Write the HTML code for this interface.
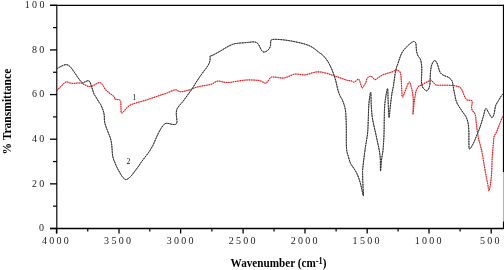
<!DOCTYPE html>
<html><head><meta charset="utf-8"><style>
html,body{margin:0;padding:0;background:#fff;}
body{width:504px;height:270px;overflow:hidden;}
svg{display:block;will-change:transform;}
.tk{font-family:"Liberation Serif",serif;font-size:10px;letter-spacing:2.3px;fill:#222;}
.ttl{font-family:"Liberation Serif",serif;font-size:13.6px;font-weight:bold;fill:#000;}
.cl{font-family:"Liberation Serif",serif;font-size:8px;fill:#111;}
</style></head><body>
<svg width="504" height="270" viewBox="0 0 504 270">
<rect x="0" y="0" width="504" height="270" fill="#fff"/>
<defs><path d="M57.00 90.60 C57.38 90.17 58.35 89.00 59.30 88.00 C60.25 87.00 61.50 85.63 62.70 84.60 C63.90 83.57 65.40 82.10 66.50 81.80 C67.60 81.50 68.17 82.52 69.30 82.80 C70.43 83.08 71.97 83.45 73.30 83.50 C74.63 83.55 75.97 83.17 77.30 83.10 C78.63 83.03 80.07 82.83 81.30 83.10 C82.53 83.37 83.58 84.17 84.70 84.70 C85.82 85.23 86.90 86.03 88.00 86.30 C89.10 86.57 90.18 86.57 91.30 86.30 C92.42 86.03 93.58 85.27 94.70 84.70 C95.82 84.13 97.05 83.23 98.00 82.90 C98.95 82.57 99.82 82.60 100.40 82.70 C100.98 82.80 101.02 82.95 101.50 83.50 C101.98 84.05 102.67 85.03 103.30 86.00 C103.93 86.97 104.52 88.30 105.30 89.30 C106.08 90.30 107.10 91.22 108.00 92.00 C108.90 92.78 109.82 93.33 110.70 94.00 C111.58 94.67 112.63 95.45 113.30 96.00 C113.97 96.55 114.53 96.85 114.70 97.30 C114.87 97.75 114.08 98.37 114.30 98.70 C114.52 99.03 115.17 99.13 116.00 99.30 C116.83 99.47 118.53 99.37 119.30 99.70 C120.07 100.03 120.33 100.13 120.60 101.30 C120.87 102.47 120.78 104.80 120.90 106.70 C121.02 108.60 120.90 111.82 121.30 112.70 C121.70 113.58 122.52 112.67 123.30 112.00 C124.08 111.33 124.88 109.83 126.00 108.70 C127.12 107.57 128.37 106.15 130.00 105.20 C131.63 104.25 133.20 103.83 135.80 103.00 C138.40 102.17 142.58 101.13 145.60 100.20 C148.62 99.27 151.50 98.22 153.90 97.40 C156.30 96.58 157.87 96.02 160.00 95.30 C162.13 94.58 164.20 94.02 166.70 93.10 C169.20 92.18 173.03 90.13 175.00 89.80 C176.97 89.47 177.33 90.78 178.50 91.10 C179.67 91.42 180.73 91.77 182.00 91.70 C183.27 91.63 184.60 91.08 186.10 90.70 C187.60 90.32 189.18 90.02 191.00 89.40 C192.82 88.78 194.67 87.65 197.00 87.00 C199.33 86.35 202.50 86.00 205.00 85.50 C207.50 85.00 210.33 84.55 212.00 84.00 C213.67 83.45 214.17 82.67 215.00 82.20 C215.83 81.73 216.17 81.37 217.00 81.20 C217.83 81.03 219.00 81.07 220.00 81.20 C221.00 81.33 221.83 81.78 223.00 82.00 C224.17 82.22 225.67 82.45 227.00 82.50 C228.33 82.55 229.70 82.45 231.00 82.30 C232.30 82.15 232.98 81.90 234.80 81.60 C236.62 81.30 239.72 80.78 241.90 80.50 C244.08 80.22 245.92 79.97 247.90 79.90 C249.88 79.83 251.92 80.00 253.80 80.10 C255.68 80.20 257.82 80.25 259.20 80.50 C260.58 80.75 261.02 81.15 262.10 81.60 C263.18 82.05 264.70 83.30 265.70 83.20 C266.70 83.10 267.30 81.95 268.10 81.00 C268.90 80.05 269.70 78.18 270.50 77.50 C271.30 76.82 271.72 76.90 272.90 76.90 C274.08 76.90 276.02 77.30 277.60 77.50 C279.18 77.70 281.00 78.10 282.40 78.10 C283.80 78.10 284.77 77.87 286.00 77.50 C287.23 77.13 288.38 76.47 289.80 75.90 C291.22 75.33 292.92 74.35 294.50 74.10 C296.08 73.85 297.52 74.27 299.30 74.40 C301.08 74.53 303.22 75.10 305.20 74.90 C307.18 74.70 309.40 73.68 311.20 73.20 C313.00 72.72 314.42 72.20 316.00 72.00 C317.58 71.80 318.92 71.80 320.70 72.00 C322.48 72.20 324.72 72.65 326.70 73.20 C328.68 73.75 330.62 74.62 332.60 75.30 C334.58 75.98 336.62 76.62 338.60 77.30 C340.58 77.98 342.93 78.87 344.50 79.40 C346.07 79.93 346.90 80.27 348.00 80.50 C349.10 80.73 350.10 80.52 351.10 80.80 C352.10 81.08 353.10 82.25 354.00 82.20 C354.90 82.15 355.78 81.00 356.50 80.50 C357.22 80.00 357.80 79.20 358.30 79.20 C358.80 79.20 359.05 79.53 359.50 80.50 C359.95 81.47 360.55 83.75 361.00 85.00 C361.45 86.25 361.63 88.00 362.20 88.00 C362.77 88.00 363.77 86.00 364.40 85.00 C365.03 84.00 365.55 83.08 366.00 82.00 C366.45 80.92 366.52 79.42 367.10 78.50 C367.68 77.58 368.70 76.80 369.50 76.50 C370.30 76.20 371.00 76.18 371.90 76.70 C372.80 77.22 373.90 79.40 374.90 79.60 C375.90 79.80 376.62 78.68 377.90 77.90 C379.18 77.12 381.02 75.67 382.60 74.90 C384.18 74.13 385.82 73.80 387.40 73.30 C388.98 72.80 390.72 72.43 392.10 71.90 C393.48 71.37 394.70 70.33 395.70 70.10 C396.70 69.87 397.30 70.00 398.10 70.50 C398.90 71.00 399.97 71.28 400.50 73.10 C401.03 74.92 401.05 77.92 401.30 81.40 C401.55 84.88 401.77 91.38 402.00 94.00 C402.23 96.62 402.30 97.25 402.70 97.10 C403.10 96.95 403.73 94.80 404.40 93.10 C405.07 91.40 405.88 88.75 406.70 86.90 C407.52 85.05 408.63 82.30 409.30 82.00 C409.97 81.70 410.22 83.60 410.70 85.10 C411.18 86.60 411.77 88.52 412.20 91.00 C412.63 93.48 413.17 96.10 413.30 100.00 C413.43 103.90 412.88 113.90 413.00 114.40 C413.12 114.90 413.70 105.73 414.00 103.00 C414.30 100.27 414.50 99.83 414.80 98.00 C415.10 96.17 415.40 93.58 415.80 92.00 C416.20 90.42 416.67 89.50 417.20 88.50 C417.73 87.50 418.28 86.58 419.00 86.00 C419.72 85.42 420.50 85.50 421.50 85.00 C422.50 84.50 423.75 83.67 425.00 83.00 C426.25 82.33 428.00 81.47 429.00 81.00 C430.00 80.53 430.33 80.03 431.00 80.20 C431.67 80.37 432.17 81.20 433.00 82.00 C433.83 82.80 434.83 84.47 436.00 85.00 C437.17 85.53 438.50 85.17 440.00 85.20 C441.50 85.23 443.00 85.15 445.00 85.20 C447.00 85.25 449.83 85.30 452.00 85.50 C454.17 85.70 456.53 85.97 458.00 86.40 C459.47 86.83 460.07 87.35 460.80 88.10 C461.53 88.85 461.85 89.70 462.40 90.90 C462.95 92.10 463.53 94.00 464.10 95.30 C464.67 96.60 465.15 97.87 465.80 98.70 C466.45 99.53 467.17 100.03 468.00 100.30 C468.83 100.57 470.10 100.12 470.80 100.30 C471.50 100.48 472.02 100.65 472.20 101.40 C472.38 102.15 472.00 103.77 471.90 104.80 C471.80 105.83 471.50 106.58 471.60 107.60 C471.70 108.62 471.90 109.78 472.50 110.90 C473.10 112.02 474.57 112.20 475.20 114.30 C475.83 116.40 475.82 119.80 476.30 123.50 C476.78 127.20 477.48 133.10 478.10 136.50 C478.72 139.90 479.32 141.10 480.00 143.90 C480.68 146.70 481.27 148.40 482.20 153.30 C483.13 158.20 484.67 168.12 485.60 173.30 C486.53 178.48 487.25 181.50 487.80 184.40 C488.35 187.30 488.47 190.70 488.90 190.70 C489.33 190.70 489.95 187.30 490.40 184.40 C490.85 181.50 491.30 177.73 491.60 173.30 C491.90 168.87 491.92 162.62 492.20 157.80 C492.48 152.98 492.98 147.92 493.30 144.40 C493.62 140.88 493.58 138.73 494.10 136.70 C494.62 134.67 495.53 134.18 496.40 132.20 C497.27 130.22 498.32 127.27 499.30 124.80 C500.28 122.33 501.68 118.75 502.30 117.40 C502.92 116.05 502.88 116.82 503.00 116.70" id="rc"/></defs><g fill="none" stroke-linejoin="round"><use href="#rc" stroke="#f28a8a" stroke-width="1"/><use href="#rc" stroke="#e61414" stroke-width="1.05" stroke-dasharray="1.3 1"/></g>
<defs><path d="M57.00 68.60 C57.50 68.32 58.95 67.45 60.00 66.90 C61.05 66.35 62.20 65.68 63.30 65.30 C64.40 64.92 65.60 64.50 66.60 64.60 C67.60 64.70 68.40 65.18 69.30 65.90 C70.20 66.62 71.10 67.75 72.00 68.90 C72.90 70.05 73.82 71.52 74.70 72.80 C75.58 74.08 76.42 75.33 77.30 76.60 C78.18 77.87 79.13 79.37 80.00 80.40 C80.87 81.43 81.72 82.53 82.50 82.80 C83.28 83.07 83.78 82.35 84.70 82.00 C85.62 81.65 87.12 80.70 88.00 80.70 C88.88 80.70 89.45 81.12 90.00 82.00 C90.55 82.88 90.85 84.67 91.30 86.00 C91.75 87.33 92.25 88.67 92.70 90.00 C93.15 91.33 93.52 92.92 94.00 94.00 C94.48 95.08 94.77 95.13 95.60 96.50 C96.43 97.87 98.15 100.87 99.00 102.20 C99.85 103.53 100.12 103.40 100.70 104.50 C101.28 105.60 102.02 107.55 102.50 108.80 C102.98 110.05 103.30 110.80 103.60 112.00 C103.90 113.20 104.12 114.25 104.30 116.00 C104.48 117.75 104.17 120.03 104.70 122.50 C105.23 124.97 106.57 128.25 107.50 130.80 C108.43 133.35 109.63 135.72 110.30 137.80 C110.97 139.88 111.22 141.60 111.50 143.30 C111.78 145.00 111.78 145.77 112.00 148.00 C112.22 150.23 112.25 154.10 112.80 156.70 C113.35 159.30 114.52 161.63 115.30 163.60 C116.08 165.57 116.72 166.93 117.50 168.50 C118.28 170.07 119.17 171.58 120.00 173.00 C120.83 174.42 121.67 175.97 122.50 177.00 C123.33 178.03 124.33 178.78 125.00 179.20 C125.67 179.62 125.83 179.70 126.50 179.50 C127.17 179.30 128.08 178.75 129.00 178.00 C129.92 177.25 131.00 176.17 132.00 175.00 C133.00 173.83 134.00 172.33 135.00 171.00 C136.00 169.67 137.00 168.42 138.00 167.00 C139.00 165.58 139.93 164.00 141.00 162.50 C142.07 161.00 143.13 159.67 144.40 158.00 C145.67 156.33 147.20 154.57 148.60 152.50 C150.00 150.43 151.65 147.77 152.80 145.60 C153.95 143.43 154.63 141.43 155.50 139.50 C156.37 137.57 157.08 135.83 158.00 134.00 C158.92 132.17 160.00 130.08 161.00 128.50 C162.00 126.92 163.08 125.37 164.00 124.50 C164.92 123.63 165.50 123.42 166.50 123.30 C167.50 123.18 168.92 123.60 170.00 123.80 C171.08 124.00 172.00 124.43 173.00 124.50 C174.00 124.57 175.33 124.70 176.00 124.20 C176.67 123.70 176.92 122.70 177.00 121.50 C177.08 120.30 176.62 118.42 176.50 117.00 C176.38 115.58 176.23 114.28 176.30 113.00 C176.37 111.72 176.42 110.50 176.90 109.30 C177.38 108.10 178.13 107.18 179.20 105.80 C180.27 104.42 181.92 102.77 183.30 101.00 C184.68 99.23 186.05 97.20 187.50 95.20 C188.95 93.20 190.58 91.12 192.00 89.00 C193.42 86.88 194.67 84.58 196.00 82.50 C197.33 80.42 198.67 78.42 200.00 76.50 C201.33 74.58 202.92 72.45 204.00 71.00 C205.08 69.55 205.58 69.22 206.50 67.80 C207.42 66.38 208.88 64.12 209.50 62.50 C210.12 60.88 210.08 59.22 210.20 58.10 C210.32 56.98 209.77 56.28 210.20 55.80 C210.63 55.32 210.98 56.07 212.80 55.20 C214.62 54.33 218.78 51.93 221.10 50.60 C223.42 49.27 224.73 48.26 226.70 47.20 C228.67 46.14 231.05 44.90 232.90 44.25 C234.75 43.60 235.60 43.57 237.80 43.30 C240.00 43.02 244.07 42.78 246.10 42.60 C248.13 42.42 248.63 42.32 250.00 42.20 C251.37 42.08 253.03 41.72 254.30 41.90 C255.57 42.08 256.70 42.50 257.60 43.30 C258.50 44.10 259.00 45.48 259.70 46.70 C260.40 47.92 261.10 49.70 261.80 50.60 C262.50 51.50 263.08 52.02 263.90 52.10 C264.72 52.18 265.82 51.67 266.70 51.10 C267.58 50.53 268.57 49.67 269.20 48.70 C269.83 47.73 270.23 46.58 270.50 45.30 C270.77 44.02 270.52 41.97 270.80 41.00 C271.08 40.03 271.03 39.77 272.20 39.50 C273.37 39.23 275.72 39.32 277.80 39.40 C279.88 39.48 282.38 39.72 284.70 40.00 C287.02 40.28 289.38 40.68 291.70 41.10 C294.02 41.52 296.28 41.97 298.60 42.50 C300.92 43.03 303.52 43.62 305.60 44.30 C307.68 44.98 309.48 45.75 311.10 46.60 C312.72 47.45 313.92 48.38 315.30 49.40 C316.68 50.42 318.07 51.67 319.40 52.70 C320.73 53.73 321.95 54.22 323.30 55.60 C324.65 56.98 326.22 59.02 327.50 61.00 C328.78 62.98 329.95 65.25 331.00 67.50 C332.05 69.75 333.00 72.25 333.80 74.50 C334.60 76.75 335.23 78.92 335.80 81.00 C336.37 83.08 336.75 85.17 337.20 87.00 C337.65 88.83 337.95 90.37 338.50 92.00 C339.05 93.63 339.85 95.47 340.50 96.80 C341.15 98.13 341.72 98.38 342.40 100.00 C343.08 101.62 344.05 104.35 344.60 106.50 C345.15 108.65 345.42 109.48 345.70 112.90 C345.98 116.32 346.17 121.15 346.30 127.00 C346.43 132.85 346.13 143.00 346.50 148.00 C346.87 153.00 347.82 154.42 348.50 157.00 C349.18 159.58 349.75 161.67 350.60 163.50 C351.45 165.33 352.52 166.27 353.60 168.00 C354.68 169.73 356.02 171.53 357.10 173.90 C358.18 176.27 359.32 179.63 360.10 182.20 C360.88 184.77 361.25 187.03 361.80 189.30 C362.35 191.57 363.20 196.38 363.40 195.80 C363.60 195.22 363.13 189.25 363.00 185.80 C362.87 182.35 362.63 178.07 362.60 175.10 C362.57 172.13 362.37 172.40 362.80 168.00 C363.23 163.60 364.42 154.37 365.20 148.70 C365.98 143.03 367.00 138.52 367.50 134.00 C368.00 129.48 367.97 126.63 368.20 121.60 C368.43 116.57 368.48 108.70 368.90 103.80 C369.32 98.90 370.32 92.17 370.70 92.20 C371.08 92.23 370.97 100.00 371.20 104.00 C371.43 108.00 371.63 112.53 372.10 116.20 C372.57 119.87 373.38 123.03 374.00 126.00 C374.62 128.97 375.22 131.33 375.80 134.00 C376.38 136.67 376.93 139.33 377.50 142.00 C378.07 144.67 378.73 147.17 379.20 150.00 C379.67 152.83 380.08 155.50 380.30 159.00 C380.52 162.50 380.30 170.83 380.50 171.00 C380.70 171.17 381.08 163.50 381.50 160.00 C381.92 156.50 382.58 154.33 383.00 150.00 C383.42 145.67 383.75 140.83 384.00 134.00 C384.25 127.17 384.20 115.22 384.50 109.00 C384.80 102.78 385.28 100.08 385.80 96.70 C386.32 93.32 387.22 88.12 387.60 88.70 C387.98 89.28 387.87 95.40 388.10 100.20 C388.33 105.00 388.65 116.32 389.00 117.50 C389.35 118.68 389.70 111.37 390.20 107.30 C390.70 103.23 391.47 96.65 392.00 93.10 C392.53 89.55 392.78 89.73 393.40 86.00 C394.02 82.27 394.85 74.70 395.70 70.70 C396.55 66.70 397.70 64.45 398.50 62.00 C399.30 59.55 399.75 57.83 400.50 56.00 C401.25 54.17 401.92 52.58 403.00 51.00 C404.08 49.42 405.67 47.83 407.00 46.50 C408.33 45.17 409.83 43.83 411.00 43.00 C412.17 42.17 413.20 41.50 414.00 41.50 C414.80 41.50 415.43 42.08 415.80 43.00 C416.17 43.92 416.07 45.58 416.20 47.00 C416.33 48.42 416.30 50.03 416.60 51.50 C416.90 52.97 417.38 54.55 418.00 55.80 C418.62 57.05 419.70 57.47 420.30 59.00 C420.90 60.53 421.35 63.00 421.60 65.00 C421.85 67.00 421.82 68.83 421.80 71.00 C421.78 73.17 421.55 76.00 421.50 78.00 C421.45 80.00 421.33 81.50 421.50 83.00 C421.67 84.50 421.92 85.83 422.50 87.00 C423.08 88.17 424.25 89.37 425.00 90.00 C425.75 90.63 426.33 91.13 427.00 90.80 C427.67 90.47 428.50 89.30 429.00 88.00 C429.50 86.70 429.78 85.17 430.00 83.00 C430.22 80.83 430.13 77.50 430.30 75.00 C430.47 72.50 430.63 70.00 431.00 68.00 C431.37 66.00 431.92 64.22 432.50 63.00 C433.08 61.78 433.83 60.87 434.50 60.70 C435.17 60.53 435.92 61.12 436.50 62.00 C437.08 62.88 437.50 64.50 438.00 66.00 C438.50 67.50 438.92 69.67 439.50 71.00 C440.08 72.33 440.58 73.17 441.50 74.00 C442.42 74.83 443.92 75.50 445.00 76.00 C446.08 76.50 447.00 76.42 448.00 77.00 C449.00 77.58 450.27 78.67 451.00 79.50 C451.73 80.33 451.97 80.47 452.40 82.00 C452.83 83.53 453.18 86.48 453.60 88.70 C454.02 90.92 454.45 93.18 454.90 95.30 C455.35 97.42 455.68 99.63 456.30 101.40 C456.92 103.17 457.85 104.60 458.60 105.90 C459.35 107.20 460.13 108.18 460.80 109.20 C461.47 110.22 461.72 110.70 462.60 112.00 C463.48 113.30 465.17 115.08 466.10 117.00 C467.03 118.92 467.73 120.87 468.20 123.50 C468.67 126.13 468.78 129.72 468.90 132.80 C469.02 135.88 468.82 139.30 468.90 142.00 C468.98 144.70 468.78 148.53 469.40 149.00 C470.02 149.47 471.45 146.88 472.60 144.80 C473.75 142.72 475.07 139.43 476.30 136.50 C477.53 133.57 478.88 130.35 480.00 127.20 C481.12 124.05 482.05 120.68 483.00 117.60 C483.95 114.52 484.72 109.43 485.70 108.70 C486.68 107.97 487.87 111.72 488.90 113.20 C489.93 114.68 491.03 117.48 491.90 117.60 C492.77 117.72 493.48 115.87 494.10 113.90 C494.72 111.93 494.87 108.02 495.60 105.80 C496.33 103.58 497.65 102.08 498.50 100.60 C499.35 99.12 500.08 97.88 500.70 96.90 C501.32 95.92 501.82 95.18 502.20 94.70 C502.58 94.22 502.87 94.12 503.00 94.00" id="bc"/></defs><g fill="none" stroke-linejoin="round"><use href="#bc" stroke="#7a7a7a" stroke-width="0.95"/><use href="#bc" stroke="#2a2a2a" stroke-width="1" stroke-dasharray="1.6 1"/></g>
<line x1="50" y1="5.4" x2="504" y2="5.4" stroke="#000" stroke-width="1.2"/>
<line x1="50" y1="228.5" x2="504" y2="228.5" stroke="#000" stroke-width="1.3"/>
<line x1="503.5" y1="4.8" x2="503.5" y2="172" stroke="#000" stroke-width="1.2"/>
<line x1="503.5" y1="172" x2="503.5" y2="221.6" stroke="#b4b4b4" stroke-width="1.2"/>
<line x1="503.5" y1="221.6" x2="503.5" y2="229" stroke="#000" stroke-width="1.2"/>
<line x1="56.75" y1="4.8" x2="56.75" y2="233.5" stroke="#333" stroke-width="1.45"/>
<line x1="50" y1="228.50" x2="57" y2="228.50" stroke="#000" stroke-width="1.3"/>
<line x1="53" y1="206.18" x2="57" y2="206.18" stroke="#000" stroke-width="1.2"/>
<line x1="50" y1="183.86" x2="57" y2="183.86" stroke="#000" stroke-width="1.3"/>
<line x1="53" y1="161.54" x2="57" y2="161.54" stroke="#000" stroke-width="1.2"/>
<line x1="50" y1="139.22" x2="57" y2="139.22" stroke="#000" stroke-width="1.3"/>
<line x1="53" y1="116.90" x2="57" y2="116.90" stroke="#000" stroke-width="1.2"/>
<line x1="50" y1="94.58" x2="57" y2="94.58" stroke="#000" stroke-width="1.3"/>
<line x1="53" y1="72.26" x2="57" y2="72.26" stroke="#000" stroke-width="1.2"/>
<line x1="50" y1="49.94" x2="57" y2="49.94" stroke="#000" stroke-width="1.3"/>
<line x1="53" y1="27.62" x2="57" y2="27.62" stroke="#000" stroke-width="1.2"/>
<line x1="50" y1="5.30" x2="57" y2="5.30" stroke="#000" stroke-width="1.3"/>
<line x1="56.50" y1="228" x2="56.50" y2="233.5" stroke="#000" stroke-width="1.3"/>
<line x1="119.00" y1="228" x2="119.00" y2="233.5" stroke="#000" stroke-width="1.3"/>
<line x1="180.60" y1="228" x2="180.60" y2="233.5" stroke="#000" stroke-width="1.3"/>
<line x1="243.10" y1="228" x2="243.10" y2="233.5" stroke="#000" stroke-width="1.3"/>
<line x1="305.00" y1="228" x2="305.00" y2="233.5" stroke="#000" stroke-width="1.3"/>
<line x1="367.20" y1="228" x2="367.20" y2="233.5" stroke="#000" stroke-width="1.3"/>
<line x1="429.00" y1="228" x2="429.00" y2="233.5" stroke="#000" stroke-width="1.3"/>
<line x1="491.20" y1="228" x2="491.20" y2="233.5" stroke="#000" stroke-width="1.3"/>
<line x1="87.75" y1="228" x2="87.75" y2="231.5" stroke="#000" stroke-width="1.2"/>
<line x1="149.80" y1="228" x2="149.80" y2="231.5" stroke="#000" stroke-width="1.2"/>
<line x1="211.85" y1="228" x2="211.85" y2="231.5" stroke="#000" stroke-width="1.2"/>
<line x1="274.05" y1="228" x2="274.05" y2="231.5" stroke="#000" stroke-width="1.2"/>
<line x1="336.10" y1="228" x2="336.10" y2="231.5" stroke="#000" stroke-width="1.2"/>
<line x1="398.10" y1="228" x2="398.10" y2="231.5" stroke="#000" stroke-width="1.2"/>
<line x1="460.10" y1="228" x2="460.10" y2="231.5" stroke="#000" stroke-width="1.2"/>
<g class="tk"><text x="24.80" y="8.20">100</text><text x="31.90" y="52.84">80</text><text x="31.90" y="97.48">60</text><text x="31.90" y="142.12">40</text><text x="31.90" y="186.76">20</text><text x="39.10" y="231.40">0</text><text x="41.90" y="243.6">4000</text><text x="104.10" y="243.6">3500</text><text x="166.70" y="243.6">3000</text><text x="228.70" y="243.6">2500</text><text x="290.70" y="243.6">2000</text><text x="352.60" y="243.6">1500</text><text x="414.70" y="243.6">1000</text><text x="480.00" y="243.6">500</text></g>
<text class="cl" x="132.2" y="99.7" style="font-size:7.8px">1</text>
<text class="cl" x="126.5" y="163.9" style="font-size:7.8px">2</text>
<text class="ttl" transform="translate(230.6,267.2) scale(0.88,1)" style="font-size:12.7px">Wavenumber (cm<tspan font-size="9.5px" dy="-3.2">-1</tspan><tspan dy="3.2">)</tspan></text>
<text class="ttl" transform="translate(11.2,154.6) rotate(-90) scale(0.863,1)" style="font-size:13.4px">% Transmittance</text>
</svg>
</body></html>
